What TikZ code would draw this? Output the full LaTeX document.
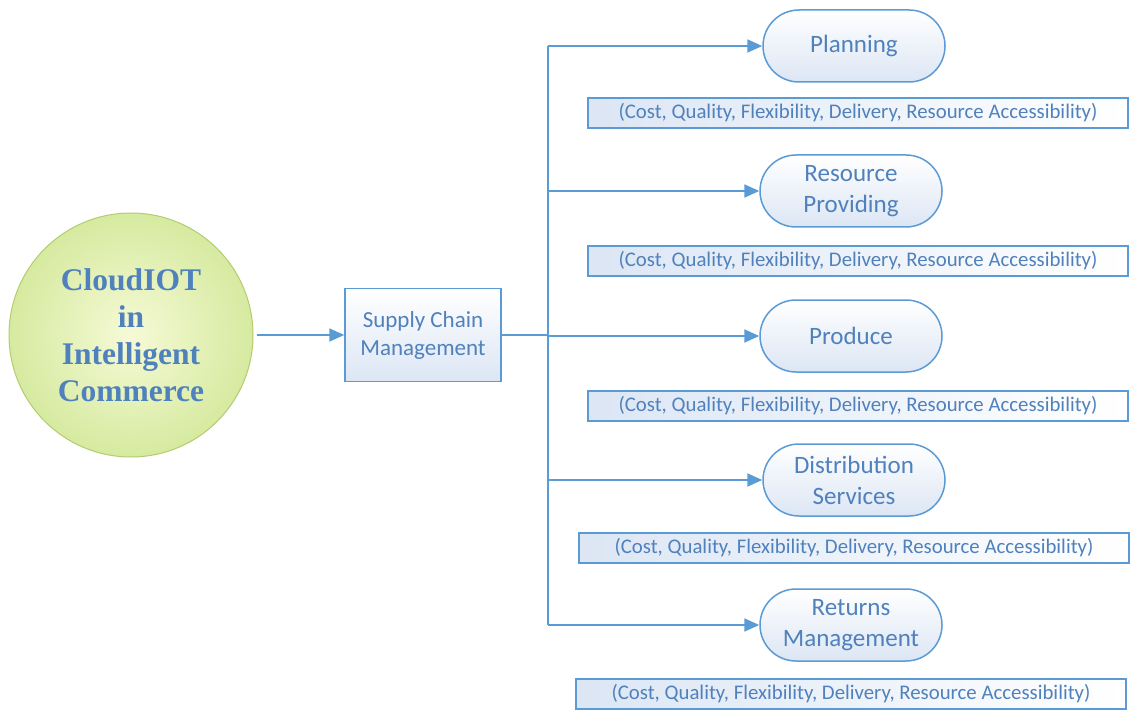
\documentclass[tikz,border=0pt]{standalone}
\usepackage{fontspec}
\setmainfont{Carlito}
\newfontfamily\hubfont{Liberation Serif}
\usetikzlibrary{arrows.meta}
\definecolor{lineblue}{HTML}{5B9BD5}
\definecolor{textblue}{HTML}{4F81BD}
\definecolor{paleblue}{HTML}{DCE6F4}
\begin{document}
\begin{tikzpicture}
[
    x=1pt, y=-1pt,
    hub/.style={circle, minimum size=244pt, draw={rgb,255:red,180;green,204;blue,110}, line width=1pt,
        inner color={rgb,255:red,246;green,250;blue,214}, outer color={rgb,255:red,214;green,234;blue,160},
        text=textblue, align=center, font=\hubfont\bfseries\fontsize{31.5}{37}\selectfont},
    scmbox/.style={rectangle, draw=lineblue, line width=1.5pt, minimum width=156pt, minimum height=93pt,
        top color=white, bottom color=paleblue, text=textblue, align=center,
        font=\fontsize{23}{28}\selectfont},
    stage/.style={rectangle, rounded corners=36pt, draw=lineblue, line width=1.5pt, minimum width=182pt,
        minimum height=72pt, top color=white, bottom color=paleblue, text=textblue, align=center,
        font=\fontsize{25}{31}\selectfont},
    attr/.style={rectangle, draw=lineblue, line width=1.5pt, minimum height=30pt,
        inner sep=0pt, left color=paleblue, right color=white, text=textblue,
        font=\fontsize{20.8}{22}\selectfont},
    link/.style={draw=lineblue, line width=2pt},
    arr/.style={link, -{Triangle[length=15pt,width=13pt]}},
]
\useasboundingbox (0,0) rectangle (1131,711);

% left side
\node[hub] (cloud) at (131,335) {CloudIOT\\in\\Intelligent\\Commerce};
\node[scmbox] (scm) at (423,335) {Supply Chain\\Management};
\draw[arr] (cloud.east) ++(3,0) -- (scm.west);

% stages
\node[stage] (plan) at (854,46) {Planning};
\node[stage] (res) at (851,191) {Resource\\Providing};
\node[stage] (prod) at (851,336) {Produce};
\node[stage] (dist) at (854,480) {Distribution\\Services};
\node[stage] (ret) at (851,625) {Returns\\Management};

% measures
\node[attr, minimum width=540pt] (plana) at (858,113) {(Cost, Quality, Flexibility, Delivery, Resource Accessibility)};
\node[attr, minimum width=540pt] (resa) at (858,261) {(Cost, Quality, Flexibility, Delivery, Resource Accessibility)};
\node[attr, minimum width=540pt] (proda) at (858,406) {(Cost, Quality, Flexibility, Delivery, Resource Accessibility)};
\node[attr, minimum width=550pt] (dista) at (854,548) {(Cost, Quality, Flexibility, Delivery, Resource Accessibility)};
\node[attr, minimum width=550pt] (reta) at (851,694) {(Cost, Quality, Flexibility, Delivery, Resource Accessibility)};

% trunk
\coordinate (top) at (548,46);
\coordinate (bot) at (548,625);
\draw[link] (scm.east) -- (scm.east -| top);
\draw[link] (top) -- (bot);
\foreach \s in {plan,res,prod,dist,ret}
    \draw[arr] (\s.west -| top) -- (\s.west);
\end{tikzpicture}
\end{document}
